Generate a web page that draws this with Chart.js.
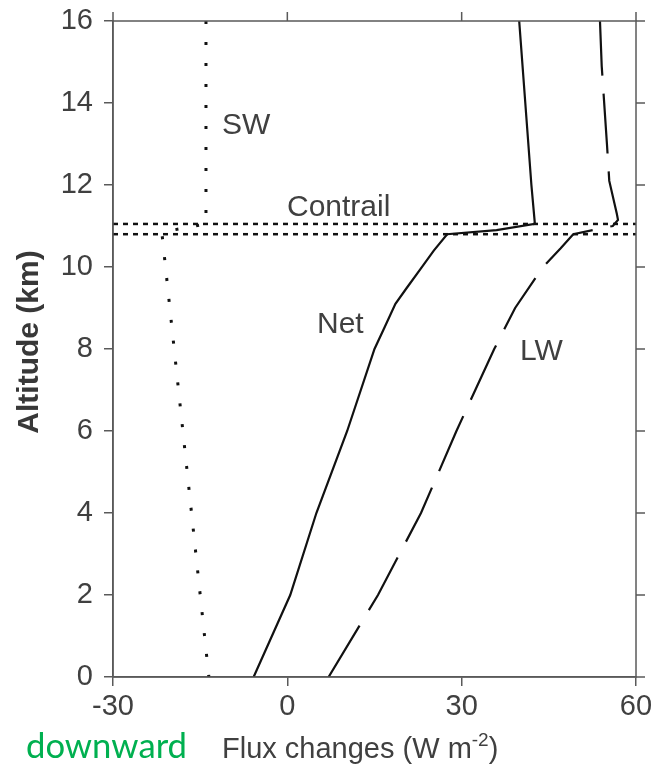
<!DOCTYPE html>
<html><head><meta charset="utf-8">
<script src="https://cdn.jsdelivr.net/npm/chart.js@4.4.0/dist/chart.umd.min.js"></script>
<style>html,body{margin:0;padding:0;background:#fff;}canvas{display:block;}</style>
</head><body>
<canvas id="c" width="654" height="771"></canvas>
<script>
const xTicks = [-30, 0, 30, 60];
const yTicks = [0, 2, 4, 6, 8, 10, 12, 14, 16];
const netAltitude = [0, 2, 4, 6, 8, 8.55, 9.1, 9.5, 9.95, 10.4, 10.8, 10.9, 11.05, 12, 16];
const netFlux = [-5.8, 0.5, 5.0, 10.3, 15.0, 16.8, 18.6, 20.6, 22.9, 25.2, 27.5, 36, 42.6, 42.0, 39.9];
const lwAltitude = [0, 2, 4, 6, 8, 9, 10, 10.45, 10.8, 11.0, 11.15, 11.3, 12.1, 13, 14.9, 16];
const lwFlux = [7.1, 15.6, 23.0, 29.1, 35.6, 39.2, 44.0, 47.0, 49.2, 56.0, 56.9, 56.7, 55.4, 55.0, 54.1, 53.8];
const swAltitude = [16, 11.05, 10.85, 0];
const swFlux = [-14.0, -14.0, -21.6, -13.5];
const contrailAltitudes = [11.05, 10.8];
const contrailFlux = [-30, 60];
const labels = {sw: 'SW', contrail: 'Contrail', net: 'Net', lw: 'LW'};

const FONT = '"Liberation Sans", Arial, Helvetica, sans-serif';
const TEXT = '#404040';
const AXIS = '#5a5a5a';
const pts = (xs, ys) => xs.map((x, i) => ({x, y: ys[i]}));

const datasets = [
  {label: 'Net', data: pts(netFlux, netAltitude), borderColor: '#111', borderWidth: 2.2},
  {label: 'LW', data: pts(lwFlux, lwAltitude), borderColor: '#111', borderWidth: 2.2, borderDash: [60, 18]},
  {label: 'SW', data: pts(swFlux, swAltitude), borderColor: '#111', borderWidth: 3, borderDash: [3, 18]},
];
contrailAltitudes.forEach((a, i) => datasets.push({
  label: 'Contrail ' + i, data: pts(contrailFlux, contrailFlux.map(() => a)),
  borderColor: '#111', borderWidth: 2.5, borderDash: [5, 5]
}));
datasets.forEach(d => { d.showLine = true; d.pointRadius = 0; d.fill = false; d.tension = 0; });

const overlay = {
  id: 'overlay',
  afterDraw(chart) {
    const {ctx, chartArea: a, scales: {x, y}} = chart;
    ctx.save();
    ctx.strokeStyle = AXIS; ctx.lineWidth = 1.5;
    ctx.strokeRect(a.left, a.top, a.right - a.left, a.bottom - a.top);
    ctx.beginPath();
    xTicks.forEach(v => { const px = x.getPixelForValue(v); ctx.moveTo(px, a.top); ctx.lineTo(px, a.top - 9); });
    yTicks.forEach(v => { const py = y.getPixelForValue(v); ctx.moveTo(a.right, py); ctx.lineTo(a.right + 9, py); });
    ctx.stroke();

    ctx.fillStyle = TEXT;
    ctx.textBaseline = 'alphabetic'; ctx.textAlign = 'left';
    ctx.font = '30px ' + FONT;
    ctx.fillText(labels.sw, 222, 134);
    ctx.fillText(labels.contrail, 287, 216);
    ctx.fillText(labels.net, 317, 333);
    ctx.fillText(labels.lw, 520, 360);

    let cx = 222; const base = 758;
    ctx.font = '29px ' + FONT;
    const t1 = 'Flux changes (W m';
    ctx.fillText(t1, cx, base); cx += ctx.measureText(t1).width;
    ctx.font = '19px ' + FONT;
    ctx.fillText('-2', cx, base - 12); cx += ctx.measureText('-2').width;
    ctx.font = '29px ' + FONT;
    ctx.fillText(')', cx, base);

    ctx.save();
    ctx.translate(30, 342); ctx.rotate(-Math.PI / 2);
    ctx.textAlign = 'center'; ctx.textBaseline = 'middle';
    ctx.font = 'bold 30px ' + FONT;
    ctx.fillStyle = '#383838';
    ctx.fillText('Altitude (km)', 0, 0);
    ctx.restore();

    ctx.font = '32px Lato, "Open Sans", sans-serif';
    ctx.fillStyle = '#00B050';
    const w = ctx.measureText('downward').width;
    const size = 32 * 161 / w;
    ctx.font = size.toFixed(1) + 'px Lato, "Open Sans", sans-serif';
    ctx.fillText('downward', 26, 758);
    ctx.restore();
  }
};

const axisCommon = {
  type: 'linear',
  grid: {drawOnChartArea: false, drawTicks: true, tickLength: 9, color: AXIS, lineWidth: 1.5},
  border: {display: true, color: AXIS, width: 1.5},
};

new Chart(document.getElementById('c'), {
  type: 'scatter',
  data: {datasets},
  options: {
    responsive: false, animation: false, devicePixelRatio: 1,
    layout: {padding: {top: 21, right: 18, left: 0, bottom: 0}},
    plugins: {legend: {display: false}, tooltip: {enabled: false}},
    scales: {
      x: Object.assign({}, axisCommon, {
        min: -30, max: 60,
        afterBuildTicks: s => { s.ticks = xTicks.map(v => ({value: v})); },
        afterFit: s => { s.height = 94; s.paddingLeft = 0; s.paddingRight = 0; },
        ticks: {font: {family: FONT, size: 29}, color: TEXT, padding: 4, maxRotation: 0, autoSkip: false},
      }),
      y: Object.assign({}, axisCommon, {
        min: 0, max: 16,
        afterBuildTicks: s => { s.ticks = yTicks.map(v => ({value: v})); },
        afterFit: s => { s.width = 113; s.paddingTop = 0; s.paddingBottom = 0; },
        ticks: {font: {family: FONT, size: 29}, color: TEXT, padding: 11, autoSkip: false},
      }),
    }
  },
  plugins: [overlay]
});
</script>
</body></html>
